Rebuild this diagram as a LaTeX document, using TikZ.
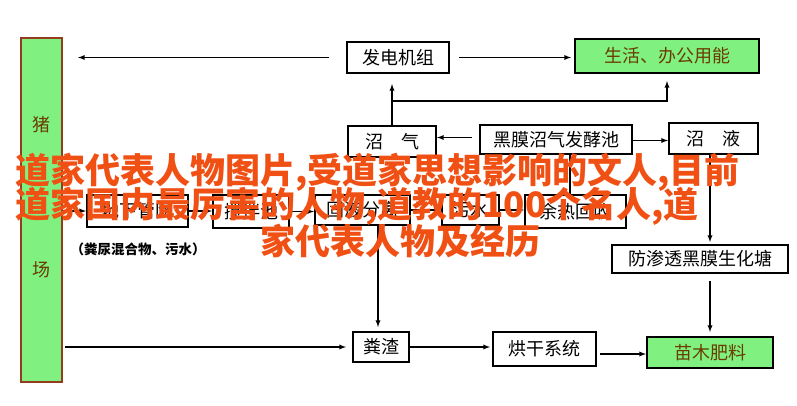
\documentclass[tikz,border=0pt]{standalone}
\usepackage{fontspec}
\usepackage{tikz}
\setmainfont{Noto Sans CJK SC}

\definecolor{boxgreen}{RGB}{128,240,128}
\definecolor{pigbrown}{RGB}{150,60,30}
\definecolor{textbrown}{RGB}{105,60,0}
\definecolor{bannerorange}{RGB}{240,80,20}

\begin{document}
\begin{tikzpicture}[x=1pt,y=-1pt,>=latex]
\tikzstyle{every node} = [inner sep=0pt,font=\fontsize{18}{20}\selectfont]
\tikzstyle {block} = [draw,line width=2pt,minimum height=31pt]
\tikzstyle {greenblock} = [block,fill=boxgreen,text=textbrown]
\tikzstyle {pigblock} = [draw=pigbrown,line width=2pt,fill=boxgreen]
\tikzstyle {flow} = [line width=1.3pt,->]
\tikzstyle {banner} = [text=bannerorange,font=\fontsize{35}{35}\selectfont\bfseries]
\useasboundingbox (0,0) rectangle (797,405);

\path (41.5,210) node [pigblock,minimum width=41pt,minimum height=344pt] (pig) {}
		(41.5,125) node [text=textbrown] (pigtop) {猪}
		(41.5,270) node [text=textbrown] (pigbot) {场}
		(398,57.5) node [block,minimum width=102pt] (gen) {发电机组}
		(667,56) node [greenblock,minimum width=184pt,minimum height=34pt] (life) {生活、办公用能}
		(392,141.5) node [block,minimum width=88pt] (gas) {沼\quad 气}
		(556,139.5) node [block,minimum width=152pt,minimum height=29pt] (pond) {黑膜沼气发酵池}
		(713.5,138.5) node [block,minimum width=89pt] (slurry) {沼\quad 液}
		(137.5,211) node [block,minimum width=101pt,minimum height=32pt] (pipe) {地下管网}
		(251,211.5) node [block,minimum width=76pt,minimum height=33pt] (mix) {搅拌池}
		(362.5,210) node [block,minimum width=95pt,minimum height=30pt] (sep) {固液分离}
		(470.5,210) node [block,minimum width=57pt,minimum height=30pt] (sewage) {污水}
		(575.5,211.5) node [block,minimum width=101pt,minimum height=33pt] (heat) {余热回收}
		(138,249) node [font=\fontsize{13.5}{15}\selectfont\bfseries] (note) {（粪尿混合物、污水）}
		(700,259) node [block,minimum width=176pt,minimum height=28pt] (tank) {防渗透黑膜生化塘}
		(381,347) node [block,minimum width=56pt,minimum height=30pt] (dung) {粪渣}
		(544.5,349) node [block,minimum width=103pt,minimum height=34pt] (dry) {烘干系统}
		(710,352.5) node [greenblock,minimum width=126pt] (fert) {苗木肥料};

	\coordinate (split) at (392,101);
	\draw[flow,shorten <=17pt,shorten >=15pt] (gen.west) -- (gen.west -| pig.east);
	\draw[flow,shorten <=9pt,shorten >=3pt] (gen.east) -- (gen.east -| life.west);
	\draw[flow,shorten >=10pt] (gas.north) -- (gas.north |- gen.south);
	\draw[flow,shorten >=7pt] (split) -| (life.south);
	\draw[flow,shorten <=7pt] ([yshift=2pt]pond.west) -- ([yshift=2pt]pond.west -| gas.east);
	\draw[flow] ([yshift=-1pt]pond.east) -- ([yshift=-1pt]pond.east -| slurry.west);
	\draw[flow,shorten >=2pt] (slurry.south -| 710,0) -- (tank.north -| 710,0);
	\draw[flow,shorten <=7pt,shorten >=4pt] (tank.south -| fert.north) -- (fert.north);
	\draw[flow] (pig.east |- pipe.west) -- (pipe.west);
	\draw[flow] (pipe.east) -- (pipe.east -| mix.west);
	\draw[flow] (mix.east) -- (mix.east -| sep.west);
	\draw[flow] (sep.east) -- (sep.east -| sewage.west);
	\draw[flow] (sewage.east) -- (sewage.east -| heat.west);
	\draw[line width=1.3pt] (heat.north -| 570,0) -- (pond.south -| 570,0);
	\draw[flow,shorten >=4pt] (sep.south -| 378,0) -- (dung.north -| 378,0);
	\draw[flow,shorten <=2pt,shorten >=6pt] (pig.east |- dung.west) -- (dung.west);
	\draw[flow,shorten >=2pt] (dung.east) -- (dung.east -| dry.west);
	\draw[flow,shorten <=3pt] ([yshift=-5pt]dry.east) -- ([yshift=-5pt]dry.east -| fert.west);

	\path (15,172) node [banner,anchor=west] (title1) {道家代表人物图片,受道家思想影响的文人,目前}
		(15,206) node [banner,anchor=west] (title2) {道家国内最厉害的人物,道教的100个名人,道}
		(400,241) node [banner] (title3) {家代表人物及经历};
\end{tikzpicture}
\end{document}
